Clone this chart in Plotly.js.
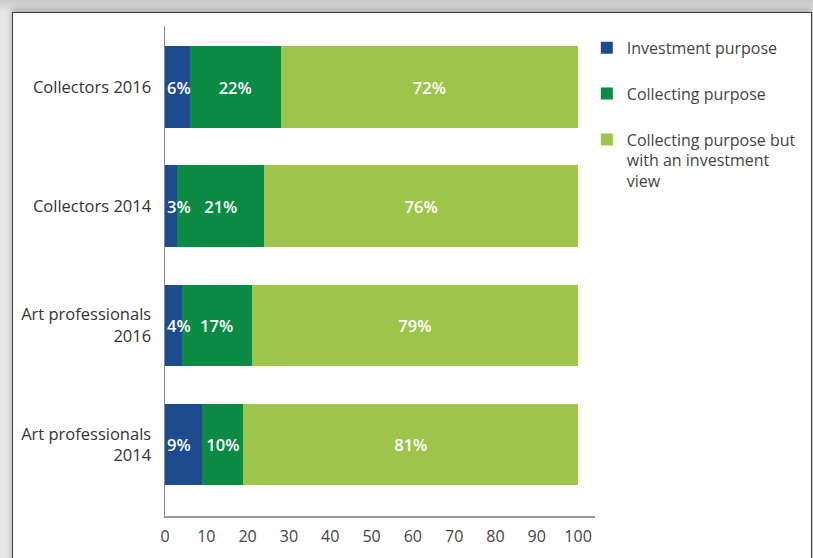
<!DOCTYPE html>
<html>
<head>
<meta charset="utf-8">
<script src="https://cdn.plot.ly/plotly-3.0.1.min.js"></script>
<style>
  html, body { margin: 0; padding: 0; width: 813px; height: 558px; overflow: hidden;
    background: linear-gradient(to bottom, #c9c9c9 0px, #e6e6e6 12px, #e6e6e6 100%); }
  #frame { position: absolute; left: 12px; top: 12px; width: 798px; height: 600px;
    background: #ffffff; border: 1px solid #3c3c3c; box-shadow: 0 -3px 6px rgba(0,0,0,0.25); }
  #chart { position: absolute; left: 0; top: 0; width: 813px; height: 558px; }
</style>
</head>
<body>
<div id="frame"></div>
<div id="chart"></div>
<script>
const categories = ["Collectors 2016", "Collectors 2014", "Art professionals<br>2016", "Art professionals<br>2014"];
const seriesNames = ["Investment purpose", "Collecting purpose", "Collecting purpose but<br>with an investment<br>view"];
const investment = [6, 3, 4, 9];
const collecting = [22, 21, 17, 10];
const collectingInvest = [72, 76, 79, 81];
const xTicks = [0, 10, 20, 30, 40, 50, 60, 70, 80, 90, 100];

const colors = ["#1d4b8f", "#0b8a44", "#9fc44b"];
const values = [investment, collecting, collectingInvest];
const groups = ["g1", "g2", "g3"];
const labelFont = { family: "Open Sans, sans-serif", size: 16.5, color: "#ffffff", weight: 600 };

const traces = values.map((v, i) => ({
  type: "bar",
  orientation: "h",
  name: seriesNames[i],
  legendgroup: groups[i],
  x: v,
  y: categories,
  text: i === 0 ? null : v.map(d => d + "%"),
  textposition: i === 0 ? "none" : "inside",
  insidetextanchor: "middle",
  textangle: 0,
  constraintext: "none",
  textfont: labelFont,
  marker: { color: colors[i], line: { width: 0 } },
  hoverinfo: "none"
}));

// labels of the narrow first segment may spill past the bar, so draw them as annotations
const annotations = investment.map((v, k) => ({
  x: 0, y: categories[k], xref: "x", yref: "y",
  text: v + "%", showarrow: false,
  xanchor: "left", yanchor: "middle", xshift: 0,
  font: labelFont
}));

const layout = {
  width: 813,
  height: 558,
  margin: { l: 165, r: 216, t: 26, b: 42 },
  paper_bgcolor: "rgba(0,0,0,0)",
  plot_bgcolor: "rgba(0,0,0,0)",
  barmode: "stack",
  bargap: 0.313,
  showlegend: true,
  annotations: annotations,
  legend: {
    x: 0.981, xanchor: "left", y: 0.99, yanchor: "top",
    traceorder: "grouped",
    tracegroupgap: 22,
    valign: "top",
    font: { family: "Open Sans, sans-serif", size: 16, color: "#444444" },
    bgcolor: "rgba(0,0,0,0)"
  },
  xaxis: {
    range: [0, 104.1],
    tickvals: xTicks,
    ticktext: xTicks.map(String),
    showline: true,
    linecolor: "#9a9a9a",
    linewidth: 1.5,
    showgrid: false,
    zeroline: false,
    ticks: "",
    ticklabelstandoff: 5,
    tickfont: { family: "Open Sans, sans-serif", size: 16, color: "#444444" }
  },
  yaxis: {
    type: "category",
    categoryorder: "array",
    categoryarray: categories,
    range: [3.60, -0.514],
    showline: true,
    linecolor: "#888888",
    linewidth: 1.5,
    showgrid: false,
    zeroline: false,
    ticks: "",
    ticklabelstandoff: 9,
    tickfont: { family: "Open Sans, sans-serif", size: 16.5, color: "#333333" }
  }
};

Plotly.newPlot("chart", traces, layout, { staticPlot: true, displayModeBar: false });
</script>
</body>
</html>
